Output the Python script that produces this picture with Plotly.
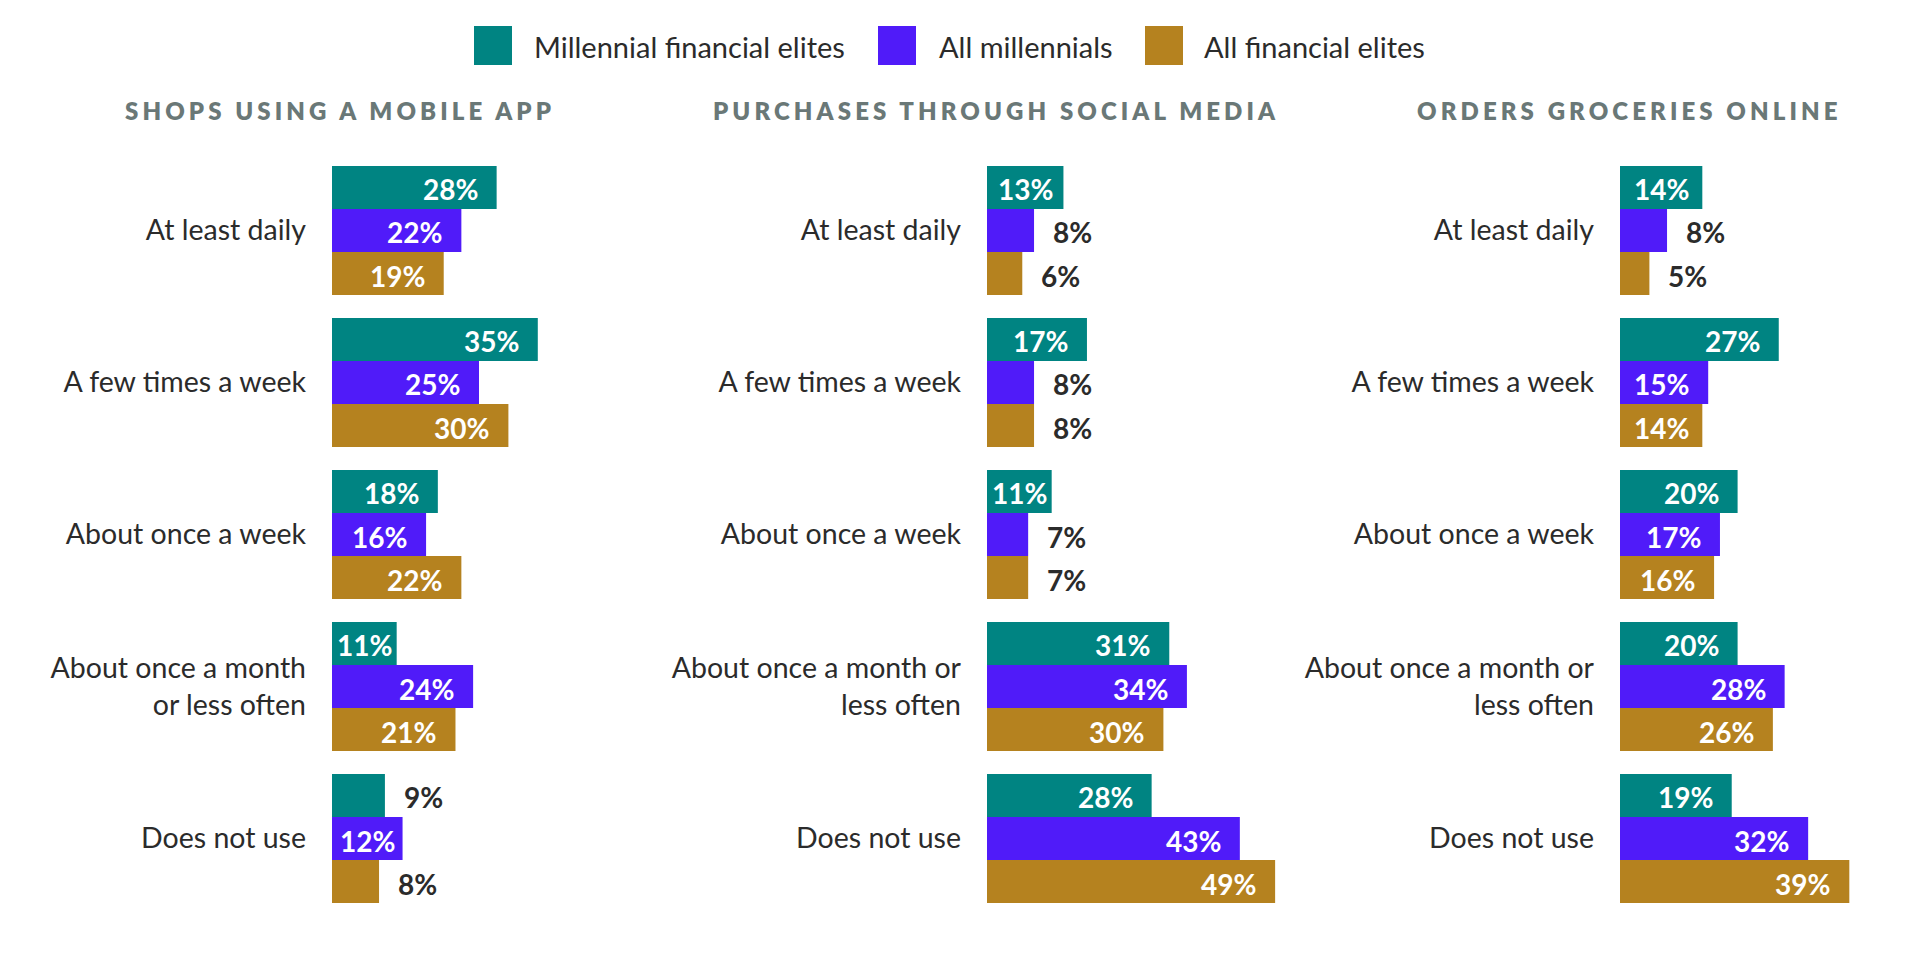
import plotly.graph_objects as go

# ---------------- data ----------------
series_names = ["Millennial financial elites", "All millennials", "All financial elites"]
series_colors = ["#008482", "#501bf9", "#b5821f"]

panel_titles = ["SHOPS USING A MOBILE APP", "PURCHASES THROUGH SOCIAL MEDIA", "ORDERS GROCERIES ONLINE"]

categories_app = ["At least daily", "A few times a week", "About once a week",
                  "About once a month<br>or less often", "Does not use"]
categories_other = ["At least daily", "A few times a week", "About once a week",
                    "About once a month or<br>less often", "Does not use"]

app_millennial_elites = [28, 35, 18, 11, 9]
app_all_millennials = [22, 25, 16, 24, 12]
app_all_elites = [19, 30, 22, 21, 8]

social_millennial_elites = [13, 17, 11, 31, 28]
social_all_millennials = [8, 8, 7, 34, 43]
social_all_elites = [6, 8, 7, 30, 49]

grocery_millennial_elites = [14, 27, 20, 20, 19]
grocery_all_millennials = [8, 15, 17, 28, 32]
grocery_all_elites = [5, 14, 16, 26, 39]

panels = [
    (categories_app, [app_millennial_elites, app_all_millennials, app_all_elites]),
    (categories_other, [social_millennial_elites, social_all_millennials, social_all_elites]),
    (categories_other, [grocery_millennial_elites, grocery_all_millennials, grocery_all_elites]),
]

# ---------------- layout constants ----------------
W, H = 1920, 960
FONT = "Lato"
bar_gap = 0.151
x_max = 50
x_domains = [(332 / W, (332 + 294) / W), (987 / W, (987 + 294) / W), (1620 / W, (1620 + 294) / W)]
y_domain = (1 - 914.5 / H, 1 - 154.5 / H)
title_x = [340 / W, 996 / W, 1629 / W]
px_per_unit = 294 / x_max

fig = go.Figure()
annotations = []

for p, (cats, series) in enumerate(panels):
    sfx = "" if p == 0 else str(p + 1)
    for j, vals in enumerate(series):
        fig.add_trace(go.Bar(
            x=vals, y=cats, orientation="h", name=series_names[j],
            marker=dict(color=series_colors[j], line=dict(width=0)),
            xaxis="x" + sfx, yaxis="y" + sfx, showlegend=False,
            hoverinfo="x+y",
        ))
        w = (1 - bar_gap) / 3
        for i, v in enumerate(vals):
            yy = i + (j - 1) * w
            bar_px = v * px_per_unit
            if v < 10:
                ann = dict(x=v, xanchor="left", xshift=17, font_color="#2b2b2b")
            elif bar_px - 17 - 54 < 16:
                ann = dict(x=v / 2, xanchor="center", xshift=0, font_color="#ffffff")
            else:
                ann = dict(x=v, xanchor="right", xshift=-17, font_color="#ffffff")
            annotations.append(dict(
                x=ann["x"], y=yy, xref="x" + sfx, yref="y" + sfx,
                text="<b>%d%%</b>" % v, showarrow=False,
                xanchor=ann["xanchor"], yanchor="middle", xshift=ann["xshift"], yshift=-2,
                font=dict(family=FONT, size=28, color=ann["font_color"], weight=900),
            ))
    annotations.append(dict(
        x=title_x[p], y=1 - 110 / H, xref="paper", yref="paper",
        text='<span style="letter-spacing:4.1px">' + panel_titles[p] + '</span>',
        showarrow=False, xanchor="center", yanchor="middle",
        font=dict(family=FONT, size=24, color="#6a7877", weight=800),
    ))

# legend (drawn as squares + labels)
legend_sq_x = [474, 878, 1145]
legend_txt_x = [532, 937, 1202]
shapes = []
for j in range(3):
    shapes.append(dict(type="rect", xref="paper", yref="paper",
                       x0=legend_sq_x[j] / W, x1=(legend_sq_x[j] + 38) / W,
                       y0=1 - 65 / H, y1=1 - 26 / H,
                       fillcolor=series_colors[j], line=dict(width=0)))
    annotations.append(dict(
        x=legend_txt_x[j] / W, y=1 - 46 / H, xref="paper", yref="paper",
        text=series_names[j], showarrow=False, xanchor="left", yanchor="middle",
        font=dict(family=FONT, size=29, color="#2b2b2b"),
    ))

layout = dict(
    width=W, height=H, margin=dict(l=0, r=0, t=0, b=0),
    paper_bgcolor="white", plot_bgcolor="white",
    barmode="group", bargap=bar_gap, bargroupgap=0,
    showlegend=False, annotations=annotations, shapes=shapes,
    font=dict(family=FONT, color="#2b2b2b"),
)
for p in range(3):
    sfx = "" if p == 0 else str(p + 1)
    layout["xaxis" + sfx] = dict(domain=list(x_domains[p]), range=[0, x_max], visible=False,
                                 anchor="y" + sfx, fixedrange=True)
    layout["yaxis" + sfx] = dict(domain=list(y_domain), range=[4.5, -0.5], anchor="x" + sfx,
                                 type="category", showgrid=False, zeroline=False, showline=False,
                                 ticks="", ticklabelstandoff=25,
                                 tickfont=dict(family=FONT, size=28.5, color="#2b2b2b"),
                                 fixedrange=True)
fig.update_layout(**layout)
fig.write_html("out.html", config={"displayModeBar": False},
               post_script="document.body.style.margin='0';")
